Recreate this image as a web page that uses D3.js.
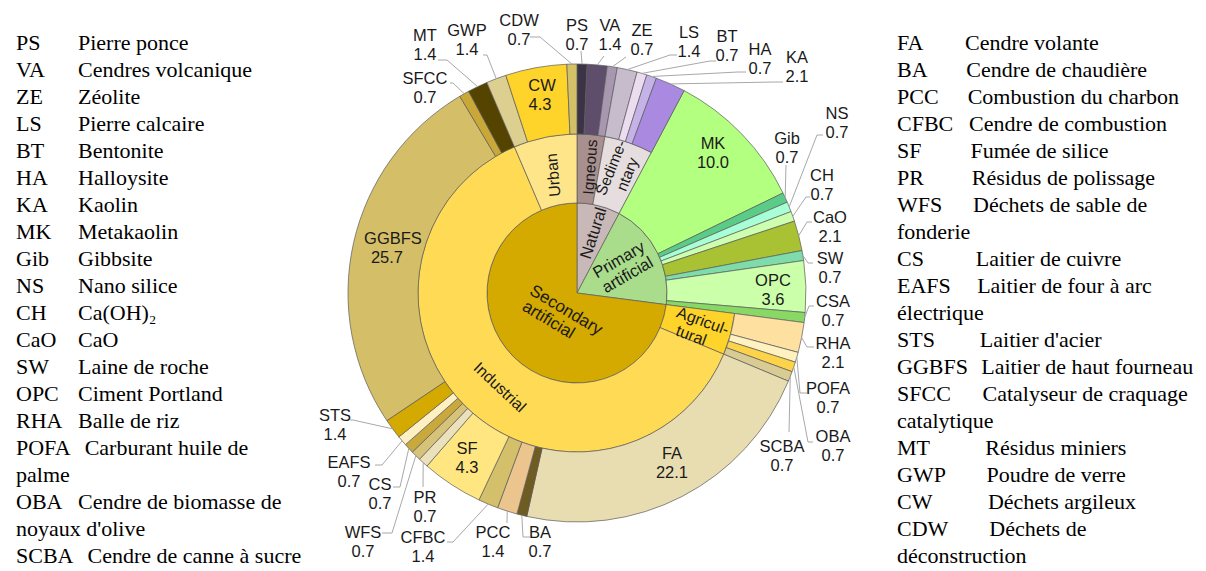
<!DOCTYPE html>
<html><head><meta charset="utf-8">
<script src="https://cdn.jsdelivr.net/npm/d3@7"></script>
<style>body{margin:0;background:#fff}svg{display:block}</style>
</head><body><svg id="c" width="1206" height="571"></svg>
<script>
// ---------------- data ----------------
const materials = ["PS","VA","ZE","LS","BT","HA","KA",
  "MK","Gib","NS","CH","CaO","SW","OPC","CSA",
  "RHA","POFA","OBA","SCBA",
  "FA","BA","PCC","CFBC","SF","PR","WFS","CS","EAFS","STS","GGBFS","SFCC","MT",
  "GWP","CW","CDW"];
const shares = [0.7,1.4,0.7,1.4,0.7,0.7,2.1,
  10.0,0.7,0.7,0.7,2.1,0.7,3.6,0.7,
  2.1,0.7,0.7,0.7,
  22.1,0.7,1.4,1.4,4.3,0.7,0.7,0.7,0.7,1.4,25.7,0.7,1.4,
  1.4,4.3,0.7];
const families = [
  "Natural","Natural","Natural","Natural","Natural","Natural","Natural",
  "Primary artificial","Primary artificial","Primary artificial","Primary artificial","Primary artificial","Primary artificial","Primary artificial","Primary artificial",
  "Secondary artificial","Secondary artificial","Secondary artificial","Secondary artificial",
  "Secondary artificial","Secondary artificial","Secondary artificial","Secondary artificial","Secondary artificial","Secondary artificial","Secondary artificial","Secondary artificial","Secondary artificial","Secondary artificial","Secondary artificial","Secondary artificial","Secondary artificial",
  "Secondary artificial","Secondary artificial","Secondary artificial"];
const subgroups = [
  "Igneous","Igneous","Igneous","Sedimentary","Sedimentary","Sedimentary","Sedimentary",
  "","","","","","","","",
  "Agricultural","Agricultural","Agricultural","Agricultural",
  "Industrial","Industrial","Industrial","Industrial","Industrial","Industrial","Industrial","Industrial","Industrial","Industrial","Industrial","Industrial","Industrial",
  "Urban","Urban","Urban"];
const groupLabels = {
  "Natural":["Natural"], "Primary artificial":["Primary","artificial"], "Secondary artificial":["Secondary","artificial"],
  "Igneous":["Igneous"], "Sedimentary":["Sedime-","ntary"], "Agricultural":["Agricul-","tural"],
  "Industrial":["Industrial"], "Urban":["Urban"]};
const leftLegend = [["PS","Pierre ponce"],["VA","Cendres volcanique"],["ZE","Zéolite"],["LS","Pierre calcaire"],
  ["BT","Bentonite"],["HA","Halloysite"],["KA","Kaolin"],["MK","Metakaolin"],["Gib","Gibbsite"],["NS","Nano silice"],
  ["CH","Ca(OH)₂"],["CaO","CaO"],["SW","Laine de roche"],["OPC","Ciment Portland"],["RHA","Balle de riz"],
  ["POFA","Carburant huile de"],["","palme"],["OBA","Cendre de biomasse de"],["","noyaux d'olive"],["SCBA","Cendre de canne à sucre"]];
const rightLegend = [["FA","Cendre volante"],["BA","Cendre de chaudière"],["PCC","Combustion du charbon"],
  ["CFBC","Cendre de combustion"],["SF","Fumée de silice"],["PR","Résidus de polissage"],["WFS","Déchets de sable de"],
  ["","fonderie"],["CS","Laitier de cuivre"],["EAFS","Laitier de four à arc"],["","électrique"],["STS","Laitier d'acier"],
  ["GGBFS","Laitier de haut fourneau"],["SFCC","Catalyseur de craquage"],["","catalytique"],["MT","Résidus miniers"],
  ["GWP","Poudre de verre"],["CW","Déchets argileux"],["CDW","Déchets de"],["","déconstruction"]];

// ---------------- styles / layout ----------------
const colors = {
  "Natural":"#c9b8b8","Igneous":"#a8908f","Sedimentary":"#e6dede",
  PS:"#3d3347",VA:"#5e4d6b",ZE:"#a897b0",LS:"#c7bccc",BT:"#ecdcf0",HA:"#c5b3e8",KA:"#a98ae0",
  "Primary artificial":"#a9dd8c",MK:"#b3ff80",Gib:"#5acc88",NS:"#a8ffd6",CH:"#ccffb0",CaO:"#a9c234",SW:"#7ddcaa",OPC:"#ccffaa",CSA:"#88d866",
  "Secondary artificial":"#d4a900","Agricultural":"#ffd42a",RHA:"#fee0a0",POFA:"#fff2c0",OBA:"#fdd34a",SCBA:"#d9cc92",
  "Industrial":"#ffdb55",FA:"#e8ddb0",BA:"#6e5c22",PCC:"#ecc48e",CFBC:"#d4c06a",SF:"#ffe680",PR:"#ebe2bc",WFS:"#d7c27a",
  CS:"#c9a83c",EAFS:"#fff0c2",STS:"#d4aa00",GGBFS:"#d4bf68",SFCC:"#c9a838",MT:"#554400",
  "Urban":"#ffe58a",GWP:"#dccf90",CW:"#ffd42a",CDW:"#d4c066"};
const cx=577, cy=293, r1=90, r2=159, r3=229;
const groupPlace = {
  "Natural":{x:593,y:233,rot:-72,fs:16.5}, "Primary artificial":{x:623,y:267,rot:-30,fs:16.5},
  "Secondary artificial":{x:562,y:317,rot:31,dx2:-10,fs:17},
  "Igneous":{x:590,y:167,rot:-86,fs:15.5}, "Sedimentary":{x:619,y:171,rot:-68,fs:15.5},
  "Agricultural":{x:700,y:329,rot:20,dx2:-6,fs:16}, "Industrial":{x:500,y:387,rot:43,fs:16}, "Urban":{x:553,y:175,rot:-95,fs:16}};
const inside = {MK:{x:713,y:143},OPC:{x:773,y:280},FA:{x:672,y:453},SF:{x:467,y:448},GGBFS:{x:393,y:238,vx:387},CW:{x:542,y:85,vx:540}};
const outside = {
  CDW:{x:519,y:20,pts:[[530,37],[540,37]]},
  PS:{x:577,y:25,pts:[[581,51]]},
  VA:{x:610,y:25,pts:[[604,56]]},
  ZE:{x:642,y:30,pts:[[626,57]]},
  LS:{x:689,y:32,pts:[[677,55],[670,55]]},
  BT:{x:727,y:36,pts:[[716,61],[710,61]]},
  HA:{x:760,y:49,pts:[[746,72],[738,72]]},
  KA:{x:797,y:57,pts:[[783,82],[775,82]]},
  NS:{x:837,y:113,pts:[[823,135],[817,135]]},
  Gib:{x:787,y:138,pts:[[786,165]]},
  CH:{x:822,y:175,pts:[[810,197],[806,197]]},
  CaO:{x:830,y:217,pts:[[812,222],[807,222]]},
  SW:{x:830,y:258,pts:[[813,263],[808,263]]},
  CSA:{x:833,y:301,pts:[[814,306],[809,306]]},
  RHA:{x:833,y:343,pts:[[814,347],[807,347]]},
  POFA:{x:828,y:388,pts:[[807,393],[800,393]]},
  OBA:{x:833,y:436,pts:[[813,442],[808,442]]},
  SCBA:{x:782,y:446,pts:[[789,432]]},
  BA:{x:540,y:532,pts:[[530,537],[523,537]]},
  PCC:{x:493,y:532,pts:[[507,523]]},
  CFBC:{x:423,y:537,pts:[[447,542],[453,542]]},
  PR:{x:425,y:497,pts:[[423,487]]},
  WFS:{x:363,y:532,pts:[[382,533],[392,533]]},
  CS:{x:380,y:484,pts:[[393,487],[400,487]]},
  EAFS:{x:349,y:462,pts:[[375,465],[382,465]]},
  STS:{x:335,y:415,pts:[[350,420],[353,420]]},
  MT:{x:425,y:35,pts:[[438,60],[447,60]]},
  GWP:{x:467,y:30,pts:[[483,55],[487,55]]},
  SFCC:{x:425,y:78,pts:[[450,83],[453,83]]}};

// ---------------- build hierarchy ----------------
const rootData = {name:"root", children:[]};
materials.forEach((m,i)=>{
  let fam = rootData.children.find(d=>d.name===families[i]);
  if(!fam){fam={name:families[i],children:[]}; rootData.children.push(fam);}
  let parent = fam;
  if(subgroups[i]){
    let sg = fam.children.find(d=>d.name===subgroups[i]);
    if(!sg){sg={name:subgroups[i],children:[]}; fam.children.push(sg);}
    parent = sg;
  }
  parent.children.push({name:m, value:shares[i]});
});
const root = d3.hierarchy(rootData).sum(d=>d.value||0);
d3.partition().size([2*Math.PI,1])(root);
function rad(d){
  if(d.depth===1) return [0,r1];
  if(d.children) return [r1,r2];
  return [d.depth===2?r1:r2, r3];
}
const arc = d3.arc().startAngle(d=>d.x0).endAngle(d=>d.x1)
  .innerRadius(d=>rad(d)[0]).outerRadius(d=>rad(d)[1]);

const svg = d3.select("#c");
const g = svg.append("g").attr("transform",`translate(${cx},${cy})`);
g.selectAll("path.seg").data(root.descendants().filter(d=>d.depth>0)).join("path")
  .attr("class","seg").attr("d",arc)
  .attr("fill",d=>colors[d.data.name]||"#ccc")
  .attr("stroke","#5a5a5a").attr("stroke-width",0.7);

const sans = "'Liberation Sans', Arial, Helvetica, sans-serif";
const fs = 16.5, lh = 18.5;

// group labels
root.descendants().filter(d=>d.depth>0 && d.children).forEach(d=>{
  const p = groupPlace[d.data.name]; const lines = groupLabels[d.data.name];
  const t = svg.append("text").attr("transform",`translate(${p.x},${p.y}) rotate(${p.rot})`)
    .attr("font-family",sans).attr("font-size",p.fs).attr("fill","#1a1a1a").attr("text-anchor","middle");
  lines.forEach((s,i)=>{
    t.append("tspan").attr("x", i>0 && p.dx2 ? p.dx2 : 0)
      .attr("y",(i-(lines.length-1)/2)*17.5).attr("dy","0.35em").text(s);
  });
});

// leaf labels
const fmt = d3.format(".1f");
const lineGen = d3.line();
root.leaves().forEach(d=>{
  const name = d.data.name, val = fmt(d.value);
  const a = (d.x0+d.x1)/2;
  const ap = [cx + r3*Math.sin(a), cy - r3*Math.cos(a)];
  let L = inside[name], pts = null;
  if(!L){ L = outside[name]; pts = L.pts; }
  if(pts){
    svg.append("path").attr("d",lineGen(pts.concat([ap])))
      .attr("fill","none").attr("stroke","#a8a8a8").attr("stroke-width",1);
  }
  const t = svg.append("text").attr("font-family",sans).attr("font-size",fs)
    .attr("fill","#1a1a1a").attr("text-anchor","middle");
  t.append("tspan").attr("x",L.x).attr("y",L.y+6).text(name);
  t.append("tspan").attr("x",L.vx||L.x).attr("y",L.y+6+lh).text(val);
});

// legends
const serif = "'Liberation Serif', 'Times New Roman', Times, serif";
const lfs = 22, rowH = 27.0, base = 50;
function legend(rows, x0, descX){
  rows.forEach((r,i)=>{
    const y = base + i*rowH;
    if(r[0]){
      const a = svg.append("text").attr("x",x0).attr("y",y).attr("font-family",serif)
        .attr("font-size",lfs).attr("fill","#000").text(r[0]);
      const w = a.node().getComputedTextLength();
      svg.append("text").attr("x",descX(i,w)).attr("y",y).attr("font-family",serif)
        .attr("font-size",lfs).attr("fill","#000").text(r[1]);
    } else {
      svg.append("text").attr("x",x0).attr("y",y).attr("font-family",serif)
        .attr("font-size",lfs).attr("fill","#000").text(r[1]);
    }
  });
}
legend(leftLegend, 16, (i,w)=>Math.max(78, 16+w+14));
legend(rightLegend, 897, (i,w)=>Math.max(965+1.35*i, 897+w+13));
</script></body></html>
